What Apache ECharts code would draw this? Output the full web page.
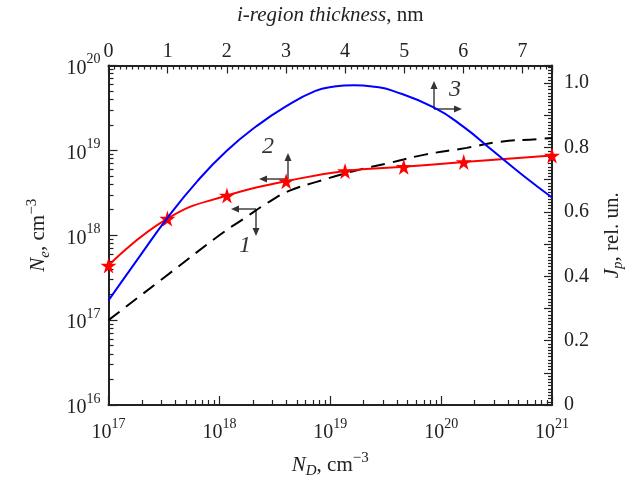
<!DOCTYPE html>
<html>
<head>
<meta charset="utf-8">
<script src="https://cdn.jsdelivr.net/npm/echarts@6/dist/echarts.min.js"></script>
<style>
  html, body { margin: 0; background: #fff; }
  #chart { width: 637px; height: 484px; }
</style>
</head>
<body>
<div id="chart"></div>
<script>
// curve 1 (dashed): Ne vs ND, bottom + left axes
const ndDash = [1e17, 3.16e17, 1e18, 1.64e18, 2.86e18, 4.25e18, 7.53e18, 1.61e19, 3.45e19, 7.14e19, 1.7e20, 3.39e20, 7.52e20, 1e21];
const neDash = [1e17, 3.16e17, 1e18, 1.55e18, 2.51e18, 3.33e18, 4.25e18, 5.68e18, 7.13e18, 8.91e18, 1.07e19, 1.26e19, 1.36e19, 1.4e19];

// curve 2 (red, stars): Ne vs ND
const ndStar = [1e17, 3.4e17, 1.17e18, 4.0e18, 1.36e19, 4.6e19, 1.6e20, 1e21];
const neStar = [4.4e17, 1.57e18, 2.94e18, 4.33e18, 5.7e18, 6.4e18, 7.3e18, 8.7e18];

// curve 3 (blue): Jp vs i-region thickness, top + right axes
const tBlue = [0, 0.5, 1, 1.5, 2, 2.5, 3, 3.5, 3.8, 4.15, 4.5, 4.8, 5.5, 6, 6.5, 7, 7.5];
const jBlue = [0.325, 0.455, 0.582, 0.695, 0.79, 0.866, 0.928, 0.976, 0.989, 0.994, 0.989, 0.977, 0.925, 0.865, 0.79, 0.715, 0.645];

const chart = echarts.init(document.getElementById('chart'));

const FONT = 'Liberation Serif';
const INK = '#222';

// minor tick positions
const logMinor = (from, to) => {
  const out = [];
  for (let d = from; d < to; d++) for (let m = 2; m <= 9; m++) out.push(d + Math.log10(m));
  return out;
};
const stepMinor = (n, step, skip) => {
  const out = [];
  for (let i = 1; i <= n; i++) if (i % skip) out.push(+(i * step).toFixed(4));
  return out;
};

const powRich = {
  b: { fontFamily: FONT, fontSize: 20, color: INK, lineHeight: 26, verticalAlign: 'bottom' },
  s: { fontFamily: FONT, fontSize: 14, color: INK, lineHeight: 12, verticalAlign: 'top' }
};
const powLabel = v => '{b|10}{s|' + Math.round(Math.log10(v)) + '}';

const nameRich = {
  i: { fontFamily: FONT, fontStyle: 'italic', fontSize: 21, color: INK, lineHeight: 28 },
  n: { fontFamily: FONT, fontSize: 21, color: INK, lineHeight: 28 },
  sub: { fontFamily: FONT, fontStyle: 'italic', fontSize: 15, color: INK, lineHeight: 14, verticalAlign: 'bottom' },
  sup: { fontFamily: FONT, fontSize: 15, color: INK, lineHeight: 12, verticalAlign: 'top' }
};

const line = { onZero: false, lineStyle: { color: INK, width: 2 } };
const tick = len => ({ inside: true, length: len, lineStyle: { color: INK, width: 1.2 } });
const plainLabel = { fontFamily: FONT, fontSize: 20, color: INK };

function arrow(x1, y1, x2, y2) {
  const a = Math.atan2(y2 - y1, x2 - x1), L = 8, W = 3.5;
  const bx = x2 - L * Math.cos(a), by = y2 - L * Math.sin(a);
  return [
    { type: 'line', shape: { x1: x1, y1: y1, x2: bx, y2: by }, style: { stroke: '#333', lineWidth: 1.4 } },
    { type: 'polygon', shape: { points: [[x2, y2], [bx - W * Math.sin(a), by + W * Math.cos(a)], [bx + W * Math.sin(a), by - W * Math.cos(a)]] }, style: { fill: '#333' } }
  ];
}
const mark = (txt, x, y) => ({
  type: 'text', x: x, y: y,
  style: { text: txt, font: 'italic 24px "Liberation Serif"', fill: '#333', align: 'center', verticalAlign: 'middle' }
});

const star = 'path://M50,0 L61,35 L98,35 L68,57 L79,91 L50,70 L21,91 L32,57 L2,35 L39,35 Z';

const options = {
  animation: false,
  grid: { left: 108.5, right: 85, top: 65.5, bottom: 77.5 },
  xAxis: [{
    type: 'log', logBase: 10, min: 1e17, max: 1e21, position: 'bottom',
    axisLine: line, axisTick: tick(9), splitLine: { show: false },
    axisLabel: { formatter: powLabel, rich: powRich, margin: 12 },
    name: '{i|N}{sub|D}{n|, cm}{sup|\u22123}', nameLocation: 'middle', nameGap: 46,
    nameTextStyle: { rich: nameRich }
  }, {
    type: 'value', min: 0, max: 7.5, interval: 1, position: 'top',
    axisLine: line, axisTick: tick(8), splitLine: { show: false },
    axisLabel: Object.assign({ margin: 4, formatter: v => Number.isInteger(v) ? String(v) : '' }, plainLabel),
    name: '{i|i-region thickness}{n|, nm}', nameLocation: 'middle', nameGap: 36,
    nameTextStyle: { rich: nameRich }
  }, {
    // minor ticks of the bottom log axis
    type: 'value', min: 17, max: 21, position: 'bottom',
    axisLine: { show: false, onZero: false }, axisLabel: { show: false }, splitLine: { show: false },
    axisTick: Object.assign(tick(5), { customValues: logMinor(17, 21) })
  }, {
    // minor ticks of the top axis
    type: 'value', min: 0, max: 7.5, position: 'top',
    axisLine: { show: false, onZero: false }, axisLabel: { show: false }, splitLine: { show: false },
    axisTick: Object.assign(tick(4), { customValues: stepMinor(75, 0.1, 10) })
  }],
  yAxis: [{
    type: 'log', logBase: 10, min: 1e16, max: 1e20, position: 'left',
    axisLine: line, axisTick: tick(9), splitLine: { show: false },
    axisLabel: { formatter: powLabel, rich: powRich, margin: 8 },
    name: '{i|N}{sub|e}{n|, cm}{sup|\u22123}', nameLocation: 'middle', nameGap: 56,
    nameTextStyle: { rich: nameRich }
  }, {
    type: 'value', min: 0, max: 1.055, interval: 0.1, position: 'right',
    axisLine: line, axisTick: tick(8), splitLine: { show: false },
    axisLabel: Object.assign({
      margin: 12,
      formatter: v => {
        const k = Math.round(v * 10);
        if (Math.abs(v * 10 - k) > 1e-6 || k % 2) return '';
        return k === 0 ? '0' : (k / 10).toFixed(1);
      }
    }, plainLabel),
    name: '{i|J}{sub|p}{n|, rel. un.}', nameLocation: 'middle', nameGap: 46,
    nameTextStyle: { rich: nameRich }
  }, {
    // minor ticks of the left log axis
    type: 'value', min: 16, max: 20, position: 'left',
    axisLine: { show: false, onZero: false }, axisLabel: { show: false }, splitLine: { show: false },
    axisTick: Object.assign(tick(5), { customValues: logMinor(16, 20) })
  }, {
    // minor ticks of the right axis
    type: 'value', min: 0, max: 1.055, position: 'right',
    axisLine: { show: false, onZero: false }, axisLabel: { show: false }, splitLine: { show: false },
    axisTick: Object.assign(tick(4), { customValues: stepMinor(105, 0.01, 10) })
  }],
  series: [{
    type: 'line', xAxisIndex: 0, yAxisIndex: 0, smooth: true, showSymbol: false,
    data: ndDash.map((x, i) => [x, neDash[i]]),
    lineStyle: { color: '#000', width: 2, type: [14, 8] }, z: 2
  }, {
    type: 'line', xAxisIndex: 0, yAxisIndex: 0, smooth: true,
    data: ndStar.map((x, i) => [x, neStar[i]]),
    symbol: star, symbolSize: 16,
    lineStyle: { color: '#ff0000', width: 2 },
    itemStyle: { color: '#ff0000', borderWidth: 0 }, z: 3
  }, {
    type: 'line', xAxisIndex: 1, yAxisIndex: 1, smooth: true, showSymbol: false,
    data: tBlue.map((x, i) => [x, jBlue[i]]),
    lineStyle: { color: '#0000ff', width: 2 }, z: 4
  }],
  graphic: [].concat(
    arrow(256, 209, 231, 209), arrow(256, 209, 256, 236), [mark('1', 245, 246)],
    arrow(288, 179, 288, 153), arrow(288, 179, 259, 179), [mark('2', 268, 147)],
    arrow(434, 109, 434, 81), arrow(434, 109, 462, 109), [mark('3', 455, 90)]
  )
};

chart.setOption(options);
</script>
</body>
</html>
